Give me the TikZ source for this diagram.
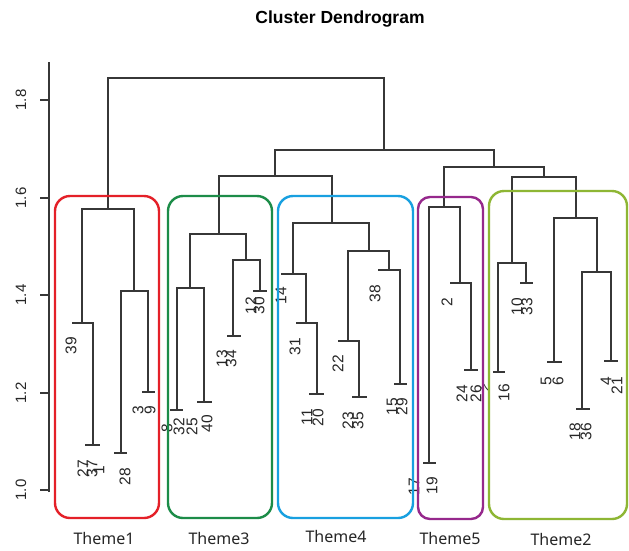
\documentclass[tikz,border=0pt]{standalone}
\usepackage{fontspec}
\setmainfont{Liberation Sans}
\newfontfamily\themefont{Noto Sans}
\definecolor{treegray}{RGB}{55,55,55}
\definecolor{cRed}{RGB}{228,32,40}
\definecolor{cGreen}{RGB}{28,140,72}
\definecolor{cBlue}{RGB}{24,160,224}
\definecolor{cPurple}{RGB}{150,40,140}
\definecolor{cLime}{RGB}{142,182,52}
\newcommand\dmerge[5]{\draw[tree] (#1,#2) |- (#3,#5) -- (#3,#4);}
\newcommand\dtick[3]{\draw[tree] (#1,#3) -- (#2,#3);}
\begin{document}
\begin{tikzpicture}[x=1pt,y=-1pt,
  tree/.style={draw=treegray,line width=1.25pt},
  leaf/.style={rotate=90,anchor=east,inner sep=0pt,font=\fontsize{15.5}{15.5}\selectfont,text=black!85},
  axlabel/.style={rotate=90,inner sep=0pt,font=\fontsize{15}{15}\selectfont,text=black!85},
  themebox/.style={line width=2.4pt,rounded corners=15pt},
  themelabel/.style={font=\themefont\fontsize{16}{16}\selectfont,text=black!85}]
\useasboundingbox[fill=white] (0,0) rectangle (629,550);

% title
\node[font=\bfseries\fontsize{17.5}{17.5}\selectfont] (title) at (340,19) {Cluster Dendrogram};

% axis
\draw[tree] (49,492) -- (49,62);
\foreach \yy/\lab [count=\i] in {490/1.0,393/1.2,295/1.4,198/1.6,100/1.8}{
  \draw[tree] (40,\yy) -- (49,\yy);
  \node[axlabel] (ax\i) at (21,\yy) {\lab};
}

% upper tree
\dmerge{108}{209}{384}{150}{78}
\dmerge{275}{176}{494}{167}{150}
\dmerge{219}{234}{332}{223}{176}
\dmerge{444}{207}{544}{177}{167}
% Theme1
\dmerge{82}{323}{134}{291}{209}
\dmerge{72}{323}{93}{445}{323}
\dtick{85}{100}{445}
\dmerge{121}{453}{148}{392}{291}
\dtick{114}{127}{453}
\dtick{142}{155}{392}
% Theme3
\dmerge{190}{288}{246}{260}{234}
\dmerge{177}{410}{204}{402}{288}
\dtick{170}{183}{410}
\dtick{197}{212}{402}
\dmerge{233}{336}{260}{291}{260}
\dtick{227}{241}{336}
\dtick{253}{267}{291}
% Theme4
\dmerge{293}{274}{369}{251}{223}
\dmerge{281}{274}{306}{323}{274}
\dmerge{296}{323}{317}{394}{323}
\dtick{309}{324}{394}
\dmerge{348}{341}{389}{270}{251}
\dmerge{338}{341}{359}{397}{341}
\dtick{352}{367}{397}
\dmerge{378}{270}{400}{384}{270}
\dtick{394}{407}{384}
% Theme5
\dmerge{429}{463}{460}{283}{207}
\dtick{423}{436}{463}
\dmerge{450}{283}{471}{370}{283}
\dtick{464}{478}{370}
% Theme2
\dmerge{512}{263}{576}{218}{177}
\dmerge{498}{372}{526}{283}{263}
\dtick{493}{505}{372}
\dtick{520}{533}{283}
\dmerge{554}{362}{597}{272}{218}
\dtick{547}{562}{362}
\dmerge{582}{409}{611}{361}{272}
\dtick{576}{590}{409}
\dtick{604}{618}{361}

% leaf labels
\foreach \xx/\yy/\lab in {
 71/337/39, 83/460/27, 92/460/37, 99/466/1, 125/468/28, 138/406/3, 150/406/9,
 167/424/8, 179/418/32, 192/418/25, 207/415/40, 222/350/13, 231/350/34, 251/297/12, 259/297/30,
 281/287/14, 295/338/31, 307/409/11, 318/409/20, 338/355/22, 348/412/23, 358/412/35, 375/285/38, 392/398/15, 402/398/29,
 414/478/17, 432/477/19, 447/298/2, 462/385/24, 476/385/26,
 504/384/16, 517/298/10, 527/298/33, 546/377/5, 558/377/6, 575/423/18, 586/423/36, 606/377/4, 617/377/21}{
  \node[leaf] (leaf\lab) at (\xx,\yy) {\lab};
}
\node[inner sep=0pt,rotate=60,font=\fontsize{12}{12}\selectfont,text=black!85] (leaf7) at (486,389) {7};

% theme boxes
\draw[themebox,cRed] (55,196) rectangle (159,518);
\draw[themebox,cGreen] (168,196) rectangle (272,518);
\draw[themebox,cBlue] (278,196) rectangle (413,518);
\draw[themebox,cPurple,rounded corners=12pt] (418,197) rectangle (483,519);
\draw[themebox,cLime] (489,191) rectangle (627,519);

% theme labels
\node[themelabel] (t1) at (104,538) {Theme1};
\node[themelabel] (t3) at (219,538) {Theme3};
\node[themelabel] (t4) at (336,536) {Theme4};
\node[themelabel] (t5) at (450,538) {Theme5};
\node[themelabel] (t2) at (561,539) {Theme2};
\end{tikzpicture}
\end{document}
